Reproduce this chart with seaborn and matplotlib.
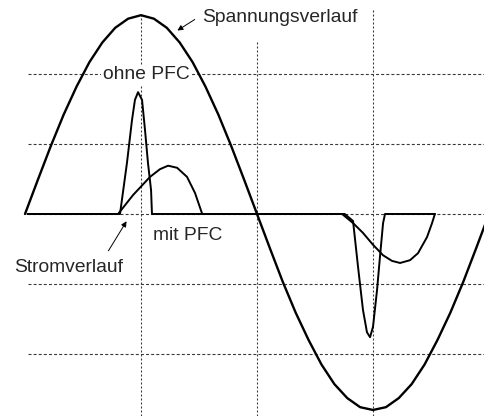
import matplotlib
matplotlib.use("Agg")
import matplotlib.pyplot as plt
import seaborn as sns
import pandas as pd

# Phase angle (degrees) and voltage (grid units)
volt_deg = [0, 10, 20, 30, 40, 50, 60, 70, 80, 90, 100, 110, 120, 130, 140, 150, 160, 170,
            180, 190, 200, 210, 220, 230, 240, 250, 260, 270, 280, 290, 300, 310, 320, 330,
            340, 350, 360]
volt_val = [0, 0.49, 0.97, 1.42, 1.82, 2.17, 2.45, 2.66, 2.79, 2.84, 2.79, 2.66, 2.45, 2.17,
            1.82, 1.42, 0.97, 0.49, 0, -0.49, -0.97, -1.41, -1.80, -2.15, -2.43, -2.63,
            -2.76, -2.80, -2.76, -2.63, -2.43, -2.15, -1.80, -1.41, -0.97, -0.49, 0]

# Current without PFC
ohne_deg = [2, 73.7, 79.1, 83.0, 85.3, 87.7, 90.8, 93.1, 95.4, 97.8, 98.5,
            248, 254.5, 258.4, 262.2, 265.3, 267.7, 270.0, 273.1, 275.4, 277.8, 279.3, 318]
ohne_val = [0, 0, 0.73, 1.34, 1.63, 1.74, 1.63, 1.20, 0.73, 0.34, 0,
            0, -0.10, -0.76, -1.37, -1.69, -1.76, -1.61, -1.09, -0.61, -0.13, 0, 0]

# Current with PFC
mit_deg = [2, 72.2, 83.8, 97.0, 104.7, 111.0, 118.0, 125.7, 131.9, 137.3, 138,
           246, 254.5, 262.2, 270.0, 277.8, 284.7, 291.0, 298.7, 304.9, 311.9, 315.8, 318]
mit_val = [0, 0, 0.27, 0.53, 0.64, 0.69, 0.66, 0.53, 0.30, 0.01, 0,
           0, -0.13, -0.27, -0.44, -0.59, -0.67, -0.70, -0.66, -0.56, -0.33, -0.13, 0]

hgrid = [-2, -1, 0, 1, 2]
vgrid = [90, 180, 270]
vgrid_top = [2.84, 2.49, 2.91]

sns.set_style("white")
plt.rcParams['font.family'] = ['Liberation Sans', 'DejaVu Sans']

fig = plt.figure(figsize=(4.84, 4.16), dpi=100)
ax = fig.add_axes([0, 0, 1, 1])
ax.set_xlim(-19.4, 356.1)
ax.set_ylim(-2.886, 3.057)
ax.axis('off')

gcol = '#3a3a3a'
for h in hgrid:
    ax.plot([2, 356.1], [h, h], color=gcol, lw=0.8, dashes=(2.7, 1.9), zorder=1)
for v, t in zip(vgrid, vgrid_top):
    ax.plot([v, v], [-2.886, t], color=gcol, lw=0.8, dashes=(1.8, 1.8), zorder=1)

sns.lineplot(x=volt_deg, y=volt_val, sort=False, estimator=None, color='black', lw=1.7, ax=ax, zorder=3)
sns.lineplot(x=ohne_deg, y=ohne_val, sort=False, estimator=None, color='black', lw=1.4, ax=ax, zorder=3)
sns.lineplot(x=mit_deg, y=mit_val, sort=False, estimator=None, color='black', lw=1.4, ax=ax, zorder=3)

fs = 13.9
ax.text(137.3, 2.81, "Spannungsverlauf", fontsize=fs, ha='left', va='center', zorder=5)
ax.text(93.9, 1.99, "ohne PFC", fontsize=fs, ha='center', va='center', zorder=5,
        bbox=dict(facecolor='white', edgecolor='none', pad=1.0))
ax.text(99.3, -0.31, "mit PFC", fontsize=fs, ha='left', va='center', zorder=5)
ax.text(-8.5, -0.77, "Stromverlauf", fontsize=fs, ha='left', va='center', zorder=5)

ax.annotate("", xy=(116.4, 2.6), xytext=(133.5, 2.8),
            arrowprops=dict(arrowstyle='-|>', color='black', lw=0.7, mutation_scale=8), zorder=5)
ax.annotate("", xy=(79.9, -0.07), xytext=(63.6, -0.56),
            arrowprops=dict(arrowstyle='-|>', color='black', lw=0.7, mutation_scale=8), zorder=5)

fig.savefig("out.png", dpi=100)
